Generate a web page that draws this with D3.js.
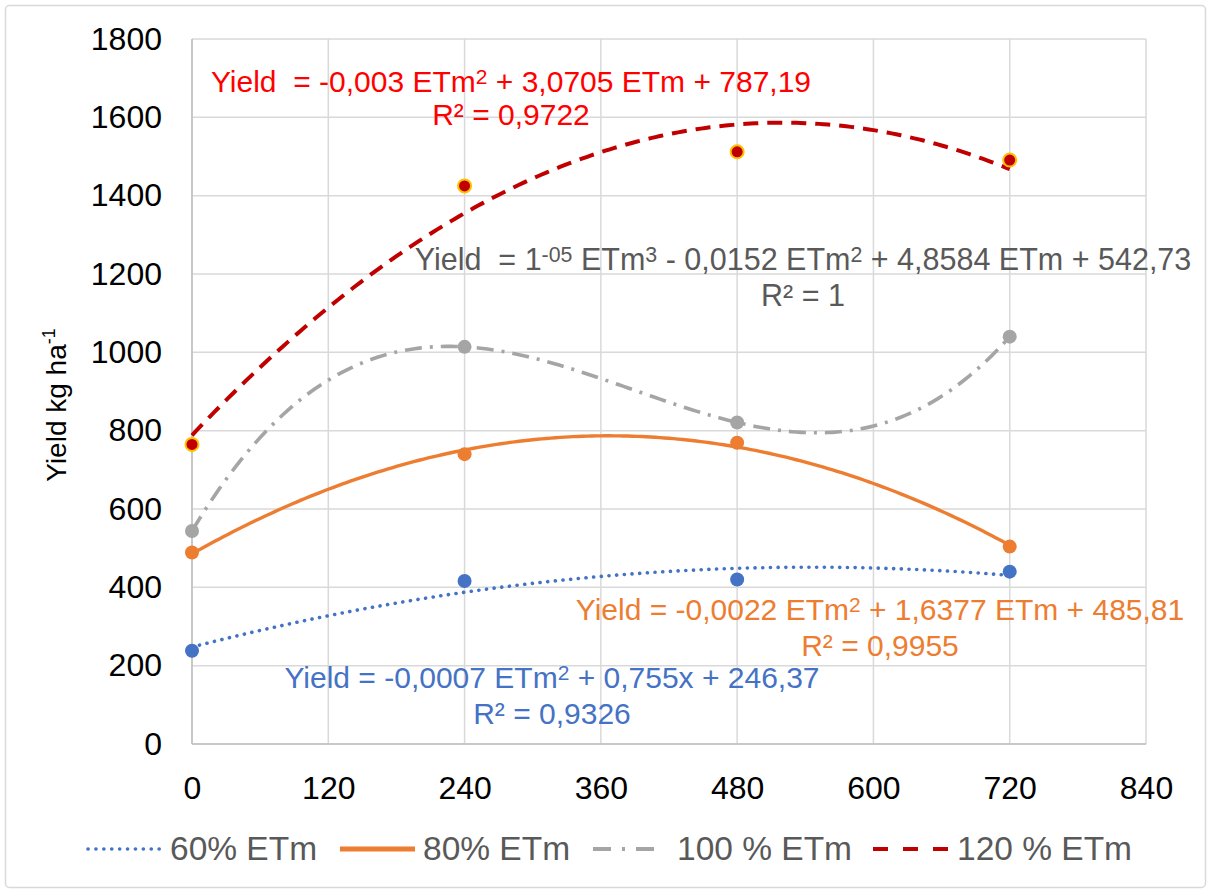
<!DOCTYPE html>
<html><head><meta charset="utf-8">
<script src="https://cdn.jsdelivr.net/npm/d3@7"></script>
<style>
html,body{margin:0;padding:0;background:#fff;}
svg{display:block;font-family:"Liberation Sans",Arial,Helvetica,sans-serif;}
text{white-space:pre;}
</style></head>
<body>
<svg id="chart" width="1212" height="891"></svg>
<script>
// ---- data ----
const etm = [0, 240, 480, 720];
const seriesNames = ["60% ETm", "80% ETm", "100 % ETm", "120 % ETm"];
const yield60 = [238, 416, 420, 440];
const yield80 = [489, 740, 769, 504];
const yield100 = [544, 1014, 821, 1040];
const yield120 = [765, 1425, 1512, 1491];
const trendOrder = [2, 2, 3, 2];
const xTicks = [0, 120, 240, 360, 480, 600, 720, 840];
const yTicks = [0, 200, 400, 600, 800, 1000, 1200, 1400, 1600, 1800];
const eq60 = [["Yield = -0,0007 ETm"], ["2", true], [" + 0,755x + 246,37"]];
const r60 = "R² = 0,9326";
const eq80 = [["Yield = -0,0022 ETm"], ["2", true], [" + 1,6377 ETm + 485,81"]];
const r80 = "R² = 0,9955";
const eq100 = [["Yield  = 1"], ["-05", true], [" ETm"], ["3", true], [" - 0,0152 ETm"], ["2", true], [" + 4,8584 ETm + 542,73"]];
const r100 = "R² = 1";
const eq120 = [["Yield  = -0,003 ETm"], ["2", true], [" + 3,0705 ETm + 787,19"]];
const r120 = "R² = 0,9722";

// ---- styles ----
const colors = ["#4472C4", "#ED7D31", "#A5A5A5", "#C00000"];
const textColors = ["#4472C4", "#ED7D31", "#595959", "#FF0000"];
const dashes = ["0.1 7.6", null, "17 8 3 8", "15 9"];
const widths = [3.6, 3.4, 3.6, 4];

const svg = d3.select("#chart");
const m = {left: 192, right: 1146, top: 39, bottom: 744};

svg.append("rect").attr("x", 5.5).attr("y", 5.5).attr("width", 1200).attr("height", 882)
  .attr("rx", 4).attr("fill", "#fff").attr("stroke", "#d9d9d9").attr("stroke-width", 1.5);

const x = d3.scaleLinear().domain([0, 840]).range([m.left, m.right]);
const y = d3.scaleLinear().domain([0, 1800]).range([m.bottom, m.top]);

// grid
const g = svg.append("g");
g.selectAll("line.vg").data(xTicks).join("line")
  .attr("x1", d => x(d)).attr("x2", d => x(d)).attr("y1", m.top).attr("y2", m.bottom)
  .attr("stroke", "#d9d9d9").attr("stroke-width", 1.5);
g.selectAll("line.hg").data(yTicks).join("line")
  .attr("y1", d => y(d)).attr("y2", d => y(d)).attr("x1", m.left).attr("x2", m.right)
  .attr("stroke", "#d9d9d9").attr("stroke-width", 1.5);
g.append("line").attr("x1", m.left).attr("x2", m.right).attr("y1", m.bottom).attr("y2", m.bottom)
  .attr("stroke", "#bfbfbf").attr("stroke-width", 1.5);
g.append("line").attr("x1", m.left).attr("x2", m.left).attr("y1", m.top).attr("y2", m.bottom)
  .attr("stroke", "#bfbfbf").attr("stroke-width", 1.5);

// axes labels via d3 axes
const xAxis = svg.append("g").attr("transform", `translate(0,${m.bottom})`)
  .call(d3.axisBottom(x).tickValues(xTicks).tickSize(0).tickPadding(32).tickFormat(d3.format("d")));
xAxis.select(".domain").remove();
xAxis.selectAll("text").attr("font-size", 32).attr("fill", "#000").attr("font-family", "Liberation Sans, Arial, sans-serif");

const yAxis = svg.append("g").attr("transform", `translate(${m.left},0)`)
  .call(d3.axisLeft(y).tickValues(yTicks).tickSize(0).tickPadding(30).tickFormat(d3.format("d")));
yAxis.select(".domain").remove();
yAxis.selectAll("text").attr("font-size", 32).attr("fill", "#000").attr("font-family", "Liberation Sans, Arial, sans-serif");

// y title
const yt = svg.append("text").attr("transform", "translate(66,405) rotate(-90)")
  .attr("text-anchor", "middle").attr("font-size", 28).attr("fill", "#000");
yt.append("tspan").text("Yield kg ha");
yt.append("tspan").text("-1").attr("font-size", 18).attr("dy", -11);

// polynomial least-squares fit
function polyfit(xs, ys, order) {
  const n = order + 1;
  const A = [], b = [];
  for (let i = 0; i < n; i++) {
    A.push([]);
    for (let j = 0; j < n; j++) A[i].push(d3.sum(xs, xv => Math.pow(xv, i + j)));
    b.push(d3.sum(xs, (xv, k) => Math.pow(xv, i) * ys[k]));
  }
  for (let i = 0; i < n; i++) {
    let p = i;
    for (let r = i + 1; r < n; r++) if (Math.abs(A[r][i]) > Math.abs(A[p][i])) p = r;
    [A[i], A[p]] = [A[p], A[i]]; [b[i], b[p]] = [b[p], b[i]];
    for (let r = i + 1; r < n; r++) {
      const f = A[r][i] / A[i][i];
      for (let c = i; c < n; c++) A[r][c] -= f * A[i][c];
      b[r] -= f * b[i];
    }
  }
  const coef = new Array(n).fill(0);
  for (let i = n - 1; i >= 0; i--) {
    let s = b[i];
    for (let c = i + 1; c < n; c++) s -= A[i][c] * coef[c];
    coef[i] = s / A[i][i];
  }
  return coef;
}

const allSeries = [yield60, yield80, yield100, yield120];
const line = d3.line().x(d => x(d[0])).y(d => y(d[1])).curve(d3.curveLinear);
const xsFine = d3.range(0, 720.01, 4);

allSeries.forEach((vals, i) => {
  const xs = etm.map(v => v / 240);
  const coef = polyfit(xs, vals, trendOrder[i]);
  const pts = xsFine.map(xv => [xv, coef.reduce((s, c, k) => s + c * Math.pow(xv / 240, k), 0)]);
  const p = svg.append("path").attr("d", line(pts)).attr("fill", "none")
    .attr("stroke", colors[i]).attr("stroke-width", widths[i]);
  if (dashes[i]) p.attr("stroke-dasharray", dashes[i]);
  if (i === 0) p.attr("stroke-linecap", "round");
});
allSeries.forEach((vals, i) => {
  svg.append("g").selectAll("circle").data(etm.map((e, k) => [e, vals[k]])).join("circle")
    .attr("cx", d => x(d[0])).attr("cy", d => y(d[1])).attr("r", i === 3 ? 6.5 : 7)
    .attr("fill", colors[i])
    .attr("stroke", i === 3 ? "#FFC000" : "none").attr("stroke-width", 2);
});

// equations
function eqText(parts, rLabel, cx, by1, by2, color, fs) {
  const t = svg.append("text").attr("x", cx).attr("y", by1).attr("text-anchor", "middle")
    .attr("font-size", fs).attr("fill", color);
  parts.forEach(pt => {
    const ts = t.append("tspan").text(pt[0]);
    if (pt[1]) ts.attr("font-size", fs * 0.7).attr("baseline-shift", "38%");
  });
  svg.append("text").attr("x", cx).attr("y", by2).attr("text-anchor", "middle")
    .attr("font-size", fs).attr("fill", color).text(rLabel);
}
eqText(eq120, r120, 511, 92, 125, textColors[3], 30);
eqText(eq100, r100, 803, 270, 306, textColors[2], 30.5);
eqText(eq80, r80, 880, 620, 656, textColors[1], 30);
eqText(eq60, r60, 552, 688, 724, textColors[0], 30);

// legend
const legX = [88, 340, 593, 873];
const legLen = [72, 75, 62, 75];
const legTextX = [170, 423, 677, 957];
const legDash = ["0.1 7.8", null, "18 11 3 11", "15 15"];
const legY = 849;
seriesNames.forEach((nm, i) => {
  const l = svg.append("line").attr("x1", legX[i]).attr("x2", legX[i] + legLen[i])
    .attr("y1", legY).attr("y2", legY).attr("stroke", colors[i])
    .attr("stroke-width", i === 1 ? 5 : 4);
  if (legDash[i]) l.attr("stroke-dasharray", legDash[i]);
  if (i === 0) l.attr("stroke-linecap", "round").attr("stroke-width", 3.6);
  svg.append("text").attr("x", legTextX[i]).attr("y", legY + 11).attr("font-size", 33.5)
    .attr("fill", "#595959").text(nm);
});
</script>
</body></html>
